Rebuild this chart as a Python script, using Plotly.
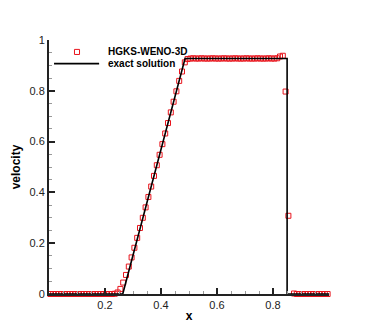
import plotly.graph_objects as go

# cell centres (100 cells) and numerical velocity
x_num = [0.005, 0.015, 0.025, 0.035, 0.045, 0.055, 0.065, 0.075, 0.085, 0.095,
         0.105, 0.115, 0.125, 0.135, 0.145, 0.155, 0.165, 0.175, 0.185, 0.195,
         0.205, 0.215, 0.225, 0.235, 0.245, 0.255, 0.265, 0.275, 0.285, 0.295,
         0.305, 0.315, 0.325, 0.335, 0.345, 0.355, 0.365, 0.375, 0.385, 0.395,
         0.405, 0.415, 0.425, 0.435, 0.445, 0.455, 0.465, 0.475, 0.485, 0.495,
         0.505, 0.515, 0.525, 0.535, 0.545, 0.555, 0.565, 0.575, 0.585, 0.595,
         0.605, 0.615, 0.625, 0.635, 0.645, 0.655, 0.665, 0.675, 0.685, 0.695,
         0.705, 0.715, 0.725, 0.735, 0.745, 0.755, 0.765, 0.775, 0.785, 0.795,
         0.805, 0.815, 0.825, 0.835, 0.845, 0.855, 0.865, 0.875, 0.885, 0.895,
         0.905, 0.915, 0.925, 0.935, 0.945, 0.955, 0.965, 0.975, 0.985, 0.995]
u_num = [0.0, 0.0, 0.0, 0.0, 0.0, 0.0, 0.0, 0.0, 0.0, 0.0,
         0.0, 0.0, 0.0, 0.0, 0.0, 0.0, 0.0, 0.0, 0.0, 0.0,
         0.0, 0.0, 0.0, 0.001, 0.006, 0.020, 0.045, 0.075, 0.108, 0.144,
         0.182, 0.221, 0.260, 0.300, 0.341, 0.382, 0.423, 0.465, 0.507, 0.548,
         0.590, 0.632, 0.673, 0.715, 0.757, 0.798, 0.839, 0.876, 0.912, 0.925,
         0.927, 0.928, 0.927, 0.927, 0.928, 0.927, 0.927, 0.927, 0.928, 0.927,
         0.927, 0.927, 0.928, 0.927, 0.927, 0.927, 0.928, 0.927, 0.927, 0.927,
         0.928, 0.927, 0.927, 0.927, 0.928, 0.927, 0.927, 0.927, 0.928, 0.927,
         0.927, 0.928, 0.935, 0.938, 0.797, 0.308, -0.006, 0.002, 0.0, 0.0,
         0.0, 0.0, 0.0, 0.0, 0.0, 0.0, 0.0, 0.0, 0.0, 0.0]

# exact Riemann solution (breakpoints)
x_exact = [0.0, 0.2634, 0.4859, 0.8504, 0.8504, 1.0]
u_exact = [0.0, 0.0, 0.9274, 0.9274, 0.0, 0.0]

names = ['HGKS-WENO-3D', 'exact solution']
RED = '#e8141c'

fig = go.Figure()
fig.add_trace(go.Scatter(
    x=x_num, y=u_num, mode='markers', name=names[0],
    marker=dict(symbol='square-open', size=5, color=RED, line=dict(width=1, color=RED)),
    cliponaxis=False, showlegend=False))
fig.add_trace(go.Scatter(
    x=x_exact, y=u_exact, mode='lines', name=names[1],
    line=dict(color='black', width=1.6), cliponaxis=False, showlegend=False))

# hand-drawn legend (Tecplot style, tight spacing)
fig.add_shape(type='rect', xref='paper', yref='paper', x0=0.091, x1=0.109, y0=0.943, y1=0.963,
              line=dict(color=RED, width=1))
fig.add_shape(type='line', xref='paper', yref='paper', x0=0.018, x1=0.179, y0=0.907, y1=0.907,
              line=dict(color='black', width=1.6))
for nm, yy in zip(names, [0.953, 0.907]):
    fig.add_annotation(x=0.205, y=yy, xref='paper', yref='paper', text='<b>%s</b>' % nm,
                       showarrow=False, xanchor='left', yanchor='middle',
                       font=dict(size=10, color='black'))

axis_style = dict(range=[0, 1], showgrid=False, zeroline=False, showline=True,
                  linecolor='#222', linewidth=2, ticks='inside', ticklen=6, tickwidth=1.5,
                  tickcolor='#222', automargin=False,
                  minor=dict(ticks='inside', tick0=0, dtick=0.05, ticklen=3,
                             tickcolor='#999', tickwidth=1))

# page body adds an 8px offset, margins compensate
fig.update_layout(
    width=374, height=332,
    margin=dict(l=41, r=53, t=32, b=46),
    plot_bgcolor='white', paper_bgcolor='white',
    font=dict(family='Liberation Sans, Arial, sans-serif', size=11, color='#222'),
    xaxis=dict(axis_style, tickvals=[0.2, 0.4, 0.6, 0.8], ticktext=['0.2', '0.4', '0.6', '0.8'],
               title=dict(text='<b>x</b>', font=dict(size=12, color='black'), standoff=1)),
    yaxis=dict(axis_style, tickvals=[0, 0.2, 0.4, 0.6, 0.8, 1],
               ticktext=['0', '0.2', '0.4', '0.6', '0.8', '1'],
               title=dict(text='<b>velocity</b>', font=dict(size=12, color='black'), standoff=6)),
)

fig.write_html("out.html")
